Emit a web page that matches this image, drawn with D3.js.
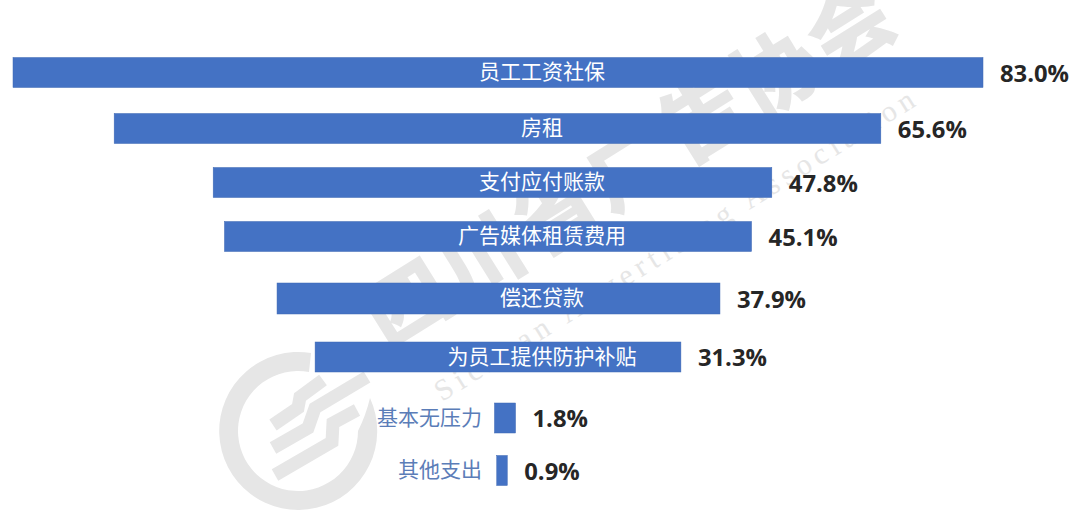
<!DOCTYPE html>
<html><head><meta charset="utf-8">
<script src="https://cdn.jsdelivr.net/npm/d3@7/dist/d3.min.js"></script>
<style>html,body{margin:0;padding:0;background:#fff}svg{display:block}</style></head>
<body><svg id="c" width="1080" height="510"></svg>
<script>
const categories=["员工工资社保","房租","支付应付账款","广告媒体租赁费用","偿还贷款","为员工提供防护补贴","基本无压力","其他支出"];
const values=[83.0,65.6,47.8,45.1,37.9,31.3,1.8,0.9];
const rowCentres=[72.5,128.5,182.5,236.5,298.5,357,418,470.5];
const barCentres=[498,497.5,492.5,488,498.5,498,505,502];
const barHeights=[30,30,30,30,31,30,30,30];
const svg=d3.select("#c");
const F='"Noto Sans CJK SC","Noto Sans",sans-serif';
const y=d3.scaleOrdinal(categories,rowCentres);
const cx=d3.scaleOrdinal(categories,barCentres);
const h=d3.scaleOrdinal(categories,barHeights);
const w=d3.scaleLinear([0,83],[0,970]);
const rows=categories.map((c,i)=>({c,v:values[i]}));
const WM="#e6e6e6";
const wm=svg.append("g").attr("fill",WM);
wm.append("path").attr("d","M370,398 A79,79 0 1 1 311,353 L309,372 A60,60 0 1 0 358,431 Q366,415 370,398 Z");
const stripe=d3.line();
[[[273,425],[298,408],[300,397],[323,380]],[[273,448],[308,428],[315,408],[367,377]],[[275,475],[332,442],[333,423],[357,410]]]
 .forEach(p=>wm.append("path").attr("fill","none").attr("stroke",WM).attr("stroke-width",13).attr("d",stripe(p)));
wm.append("text").attr("transform","translate(388,352) rotate(-32)").attr("font-family",F).attr("font-weight",900).attr("font-size",84).attr("textLength",606).text("四川省广告协会");
wm.append("text").attr("transform","translate(442,402) rotate(-32)").attr("font-family",'"Liberation Serif",serif').attr("font-size",30).attr("textLength",560).text("Sichuan Advertising Association");
const g=svg.append("g").selectAll("g").data(rows).join("g");
g.append("rect").attr("x",d=>cx(d.c)-w(d.v)/2).attr("y",d=>y(d.c)-h(d.c)/2).attr("width",d=>w(d.v)).attr("height",d=>h(d.c)).attr("fill","#4472c4").attr("stroke","#3f68b3").attr("stroke-width",0.5);
g.append("text").attr("x",d=>d.v>10?542:482).attr("y",d=>y(d.c)-1).attr("dy","0.36em")
 .attr("text-anchor",d=>d.v>10?"middle":"end").attr("font-family",F).attr("font-size",21)
 .attr("fill",d=>d.v>10?"#fff":"#5b7db8").text(d=>d.c);
g.append("text").attr("x",d=>cx(d.c)+w(d.v)/2+17).attr("y",d=>y(d.c)+0.5).attr("dy","0.36em")
 .attr("font-family",'"Open Sans",sans-serif').attr("font-weight",700).attr("font-size",23.8).attr("fill","#262626").text(d=>d.v.toFixed(1)+"%");
</script></body></html>
